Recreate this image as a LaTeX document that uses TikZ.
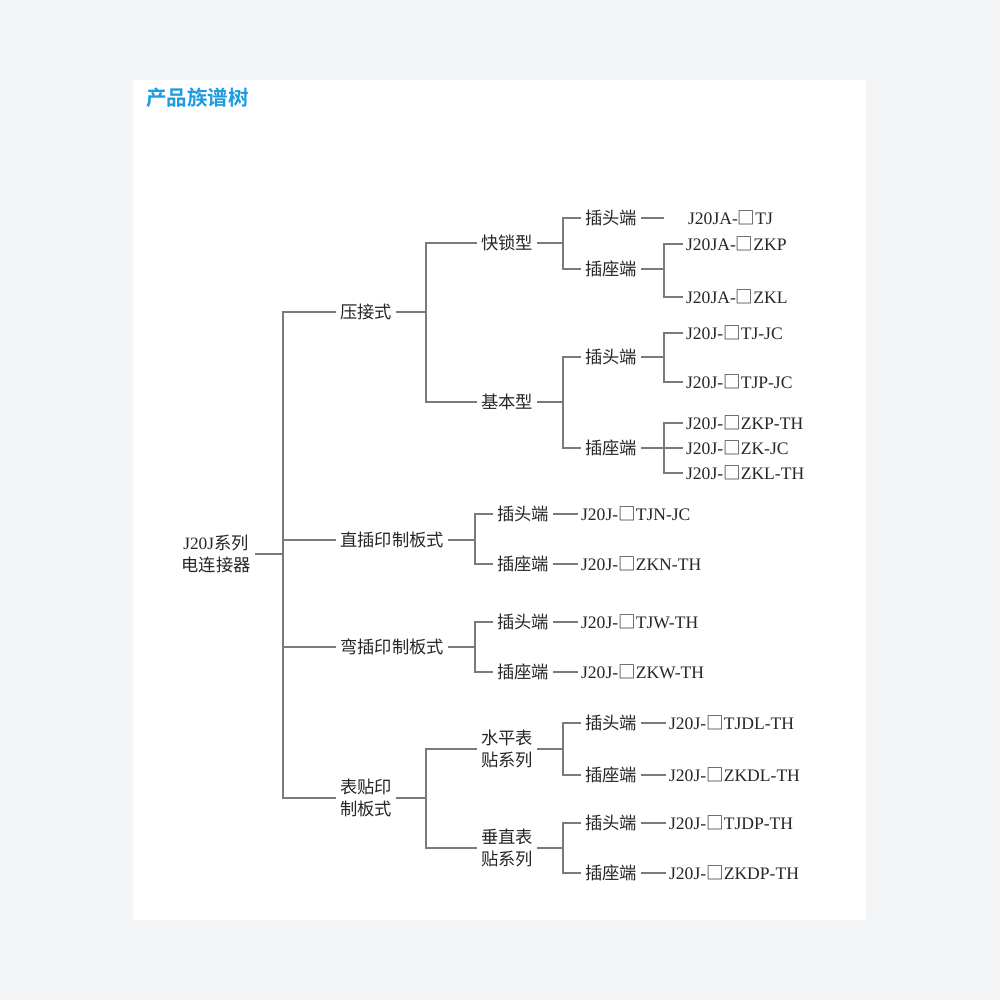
\documentclass[tikz,border=0pt]{standalone}
\usepackage{fontspec}
\setmainfont{Liberation Serif}
\newfontfamily\cjk[BoldFont={Noto Sans CJK SC Bold}]{Noto Sans CJK SC}
\newcommand\boxch{{\cjk □}}
\definecolor{bgc}{HTML}{F4F5F7}
\definecolor{titleblue}{HTML}{1E9BE0}
\definecolor{txt}{HTML}{262626}
\definecolor{lnc}{HTML}{7A7A7A}
\tikzset{
  cn/.style={font=\cjk\fontsize{12.3pt}{15.5pt}\selectfont, text=txt, inner xsep=3pt, inner ysep=1pt, align=center},
  lf/.style={font=\fontsize{12.5pt}{15.5pt}\selectfont, text=txt, inner xsep=2pt, inner ysep=1pt, anchor=west},
  ln/.style={draw=lnc, line width=0.75pt}
}
\begin{document}
\begin{tikzpicture}[x=0.025cm,y=-0.025cm]
\useasboundingbox (0,0) rectangle (1000,1000);
\fill[bgc] (0,0) rectangle (1000,1000);
\fill[white] (133,80) rectangle (866,920);
\node[anchor=west, font=\cjk\bfseries\fontsize{14.6pt}{16pt}\selectfont, text=titleblue, inner sep=0] (title) at (146,98) {产品族谱树};

% vertical line x positions
\coordinate (t0) at (283,0);
\coordinate (t1) at (426,0);
\coordinate (t2) at (475,0);
\coordinate (t3) at (563,0);
\coordinate (t4) at (664,0);

% root
\node[cn] (root) at (216,554) {{\rmfamily J20J}系列\\电连接器};

% level 1
\node[cn] (yajie) at (366,312) {压接式};
\node[cn] (zhicha) at (392,540) {直插印制板式};
\node[cn] (wancha) at (392,647) {弯插印制板式};
\node[cn] (biaotie) at (366,798) {表贴印\\制板式};

% level 2
\node[cn] (kuaisuo) at (507,243) {快锁型};
\node[cn] (jiben) at (507,402) {基本型};
\node[cn] (zct) at (523,514) {插头端};
\node[cn] (zcz) at (523,564) {插座端};
\node[cn] (wct) at (523,622) {插头端};
\node[cn] (wcz) at (523,672) {插座端};
\node[cn] (sp) at (507,749) {水平表\\贴系列};
\node[cn] (cz) at (507,848) {垂直表\\贴系列};

% level 3
\node[cn] (kst) at (611,218) {插头端};
\node[cn] (ksz) at (611,269) {插座端};
\node[cn] (jbt) at (611,357) {插头端};
\node[cn] (jbz) at (611,448) {插座端};
\node[cn] (spt) at (611,723) {插头端};
\node[cn] (spz) at (611,775) {插座端};
\node[cn] (czt) at (611,823) {插头端};
\node[cn] (czz) at (611,873) {插座端};

% leaves
\node[lf] (l1) at (685,218) {J20JA-\boxch TJ};
\node[lf] (l2) at (683,244) {J20JA-\boxch ZKP};
\node[lf] (l3) at (683,297) {J20JA-\boxch ZKL};
\node[lf] (l4) at (683,333) {J20J-\boxch TJ-JC};
\node[lf] (l5) at (683,382) {J20J-\boxch TJP-JC};
\node[lf] (l6) at (683,423) {J20J-\boxch ZKP-TH};
\node[lf] (l7) at (683,448) {J20J-\boxch ZK-JC};
\node[lf] (l8) at (683,473) {J20J-\boxch ZKL-TH};
\node[lf] (l9) at (578,514) {J20J-\boxch TJN-JC};
\node[lf] (l10) at (578,564) {J20J-\boxch ZKN-TH};
\node[lf] (l11) at (578,622) {J20J-\boxch TJW-TH};
\node[lf] (l12) at (578,672) {J20J-\boxch ZKW-TH};
\node[lf] (l13) at (666,723) {J20J-\boxch TJDL-TH};
\node[lf] (l14) at (666,775) {J20J-\boxch ZKDL-TH};
\node[lf] (l15) at (666,823) {J20J-\boxch TJDP-TH};
\node[lf] (l16) at (666,873) {J20J-\boxch ZKDP-TH};

% root connectors
\draw[ln] (root.east) -- (root.east -| t0);
\draw[ln] (yajie.west) -- (yajie.west -| t0) -- (biaotie.west -| t0) -- (biaotie.west);
\draw[ln] (zhicha.west) -- (zhicha.west -| t0);
\draw[ln] (wancha.west) -- (wancha.west -| t0);

% yajie
\draw[ln] (yajie.east) -- (yajie.east -| t1);
\draw[ln] (kuaisuo.west) -- (kuaisuo.west -| t1) -- (jiben.west -| t1) -- (jiben.west);
\draw[ln] (kuaisuo.east) -- (kuaisuo.east -| t3);
\draw[ln] (kst.west) -- (kst.west -| t3) -- (ksz.west -| t3) -- (ksz.west);
\draw[ln] (kst.east) -- (kst.east -| t4);
\draw[ln] (ksz.east) -- (ksz.east -| t4);
\draw[ln] (l2.west) -- (l2.west -| t4) -- (l3.west -| t4) -- (l3.west);
\draw[ln] (jiben.east) -- (jiben.east -| t3);
\draw[ln] (jbt.west) -- (jbt.west -| t3) -- (jbz.west -| t3) -- (jbz.west);
\draw[ln] (jbt.east) -- (jbt.east -| t4);
\draw[ln] (l4.west) -- (l4.west -| t4) -- (l5.west -| t4) -- (l5.west);
\draw[ln] (jbz.east) -- (l7.west);
\draw[ln] (l6.west) -- (l6.west -| t4) -- (l8.west -| t4) -- (l8.west);

% zhicha
\draw[ln] (zhicha.east) -- (zhicha.east -| t2);
\draw[ln] (zct.west) -- (zct.west -| t2) -- (zcz.west -| t2) -- (zcz.west);
\draw[ln] (zct.east) -- (l9.west);
\draw[ln] (zcz.east) -- (l10.west);

% wancha
\draw[ln] (wancha.east) -- (wancha.east -| t2);
\draw[ln] (wct.west) -- (wct.west -| t2) -- (wcz.west -| t2) -- (wcz.west);
\draw[ln] (wct.east) -- (l11.west);
\draw[ln] (wcz.east) -- (l12.west);

% biaotie
\draw[ln] (biaotie.east) -- (biaotie.east -| t1);
\draw[ln] (sp.west) -- (sp.west -| t1) -- (cz.west -| t1) -- (cz.west);
\draw[ln] (sp.east) -- (sp.east -| t3);
\draw[ln] (spt.west) -- (spt.west -| t3) -- (spz.west -| t3) -- (spz.west);
\draw[ln] (spt.east) -- (l13.west);
\draw[ln] (spz.east) -- (l14.west);
\draw[ln] (cz.east) -- (cz.east -| t3);
\draw[ln] (czt.west) -- (czt.west -| t3) -- (czz.west -| t3) -- (czz.west);
\draw[ln] (czt.east) -- (l15.west);
\draw[ln] (czz.east) -- (l16.west);
\end{tikzpicture}
\end{document}
